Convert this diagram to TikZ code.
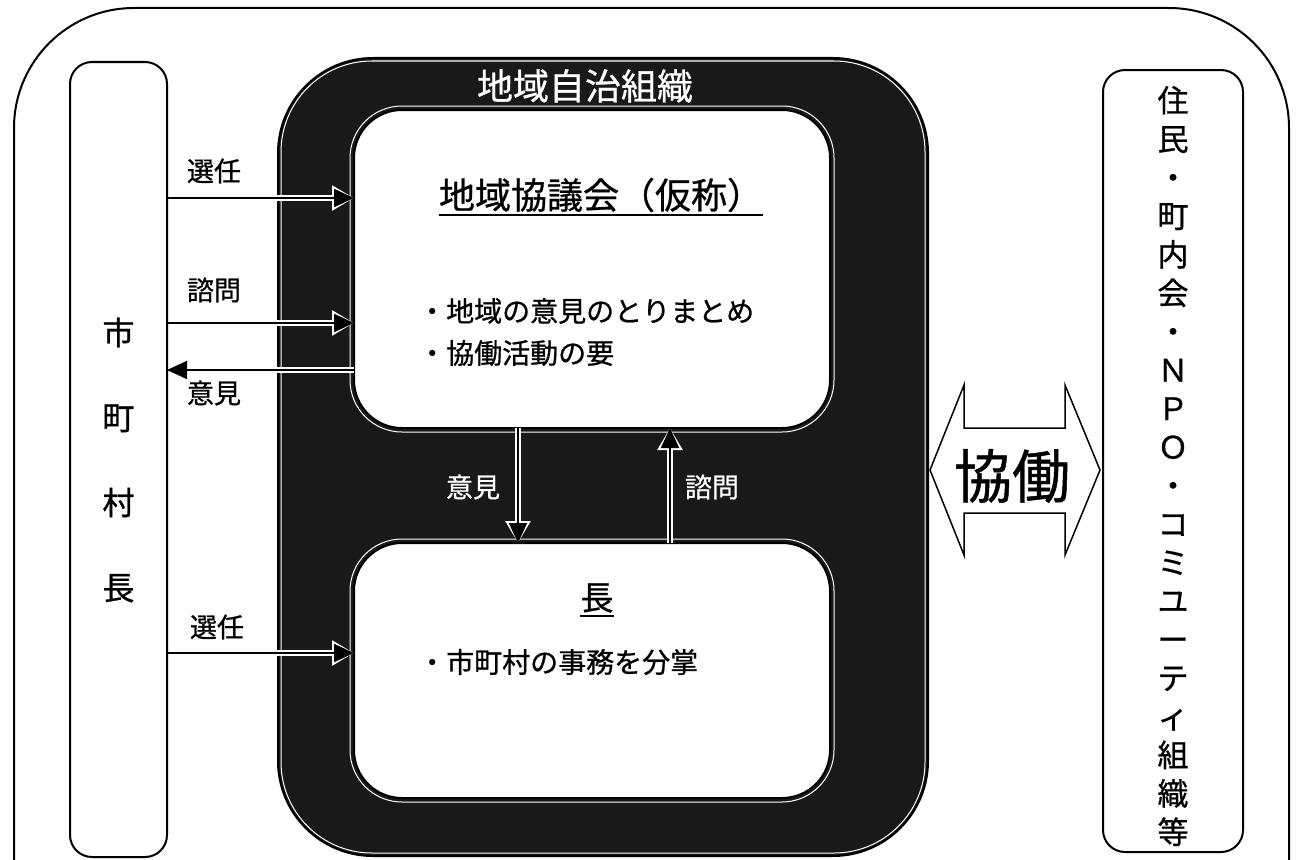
\documentclass[tikz,border=0pt]{standalone}
\usepackage{fontspec}
\newfontfamily\jp{Noto Sans CJK JP}[FakeBold=0.8]
\usetikzlibrary{arrows.meta}
\begin{document}
\begin{tikzpicture}[x=1pt,y=-1pt,
  box/.style={draw=black, line width=2pt, fill=white, rounded corners=#1, inner sep=0pt, outer sep=0pt},
  lbl/.style={font=\jp\fontsize{27}{30}\selectfont, inner sep=0pt},
  wlbl/.style={lbl, text=white},
  item/.style={font=\jp\fontsize{28}{30}\selectfont, inner sep=0pt, anchor=west},
  conn/.style={line width=1.8pt, -{Triangle[length=20pt,width=18pt]}},
  halo/.style={white, line width=6pt, -{Triangle[length=22pt,width=24pt]}},
  haloline/.style={white, line width=6pt},
  uline/.style={line width=2pt},
]
\useasboundingbox (0,0) rectangle (1297,859);
\fill[white] (0,0) rectangle (1297,859);
% outer frame
\draw[line width=2pt, rounded corners=120pt] (14,866) -- (14,8) -- (1289,8) -- (1289,866);

% side boxes
\node[box=22pt, minimum width=97pt, minimum height=795pt] (mayor) at (118.5,459.5) {};
\node[font=\jp\fontsize{32}{85}\selectfont, align=center, inner sep=0pt] (mayortxt) at (118.5,460) {市\\町\\村\\長};

\node[box=22pt, minimum width=140pt, minimum height=782pt] (resid) at (1173,461) {};
\node[font=\jp\fontsize{31}{38.5}\selectfont, align=center, inner sep=0pt] (residtxt) at (1173,466)
  {住\\民\\・\\町\\内\\会\\・\\Ｎ\\Ｐ\\Ｏ\\・\\コ\\ミ\\ユ\\ー\\テ\\ィ\\組\\織\\等};

% dark organisation box
\node[draw=black, line width=2pt, fill=black!90, rounded corners=95pt, minimum width=650pt, minimum height=798pt, inner sep=0pt] (org) at (603,457) {};
\draw[white, line width=1pt, rounded corners=91pt] ([shift={(4,-4)}]org.south west) rectangle ([shift={(-4,4)}]org.north east);
\node[text=white, font=\jp\fontsize{36}{40}\selectfont, inner sep=0pt] (orgtitle) at (585,86) {地域自治組織};

% inner boxes
\node[box=48pt, minimum width=476pt, minimum height=318pt] (council) at (592,269) {};
\node[box=48pt, minimum width=476pt, minimum height=255pt] (chief) at (592,670.5) {};
\draw[white, line width=1pt, rounded corners=52pt] ([shift={(-4,4)}]council.south west) rectangle ([shift={(4,-4)}]council.north east);
\draw[white, line width=1pt, rounded corners=52pt] ([shift={(-4,4)}]chief.south west) rectangle ([shift={(4,-4)}]chief.north east);

% levels
\coordinate (ya) at (0,198);
\coordinate (yb) at (0,323);
\coordinate (yc) at (0,370);
\coordinate (yd) at (0,653);
\coordinate (xdn) at (518,0);
\coordinate (xup) at (670,0);

% horizontal connectors
\draw[halo] (org.west |- ya) -- (council.west |- ya);
\draw[conn] (mayor.east |- ya) -- (council.west |- ya);
\draw[halo] (org.west |- yb) -- (council.west |- yb);
\draw[conn] (mayor.east |- yb) -- (council.west |- yb);
\draw[haloline] (council.west |- yc) -- (org.west |- yc);
\draw[conn] (council.west |- yc) -- (mayor.east |- yc);
\draw[halo] (org.west |- yd) -- (chief.west |- yd);
\draw[conn] (mayor.east |- yd) -- (chief.west |- yd);

% vertical connectors
\draw[halo] (council.south -| xdn) -- (chief.north -| xdn);
\draw[conn] (council.south -| xdn) -- (chief.north -| xdn);
\draw[halo] (chief.north -| xup) -- (council.south -| xup);
\draw[conn] (chief.north -| xup) -- (council.south -| xup);

% connector labels
\node[lbl] (l1) at (214,171) {選任};
\node[lbl] (l2) at (214,290) {諮問};
\node[lbl] (l3) at (214,393) {意見};
\node[lbl] (l4) at (217,627) {選任};
\node[wlbl] (l5) at (473,487) {意見};
\node[wlbl] (l6) at (712,487) {諮問};

% council content
\node[font=\jp\fontsize{36}{40}\selectfont, inner sep=0pt] (ctitle) at (601,195) {地域協議会（仮称）};
\draw[uline] ([yshift=-3pt]ctitle.south west) -- ([yshift=-3pt]ctitle.south east);
\node[item] (c1) at (418,311) {・地域の意見のとりまとめ};
\node[item] (c2) at (418,353) {・協働活動の要};

% chief content
\node[font=\jp\fontsize{33}{36}\selectfont, inner sep=0pt] (htitle) at (597,598) {長};
\draw[uline] ([yshift=-3pt]htitle.south west) -- ([yshift=-3pt]htitle.south east);
\node[item] (h1) at (418,662) {・市町村の事務を分掌};

% collaboration double arrow
\draw[fill=white, line width=1.5pt] (930,470) -- (964,385) -- (964,428) -- (1065,428) -- (1065,385) -- (1100,470) -- (1065,555) -- (1065,513) -- (964,513) -- (964,555) -- cycle;
\node[font=\jp\fontsize{58}{60}\selectfont, inner sep=0pt] (kyodo) at (1012,476) {協働};
\end{tikzpicture}
\end{document}
